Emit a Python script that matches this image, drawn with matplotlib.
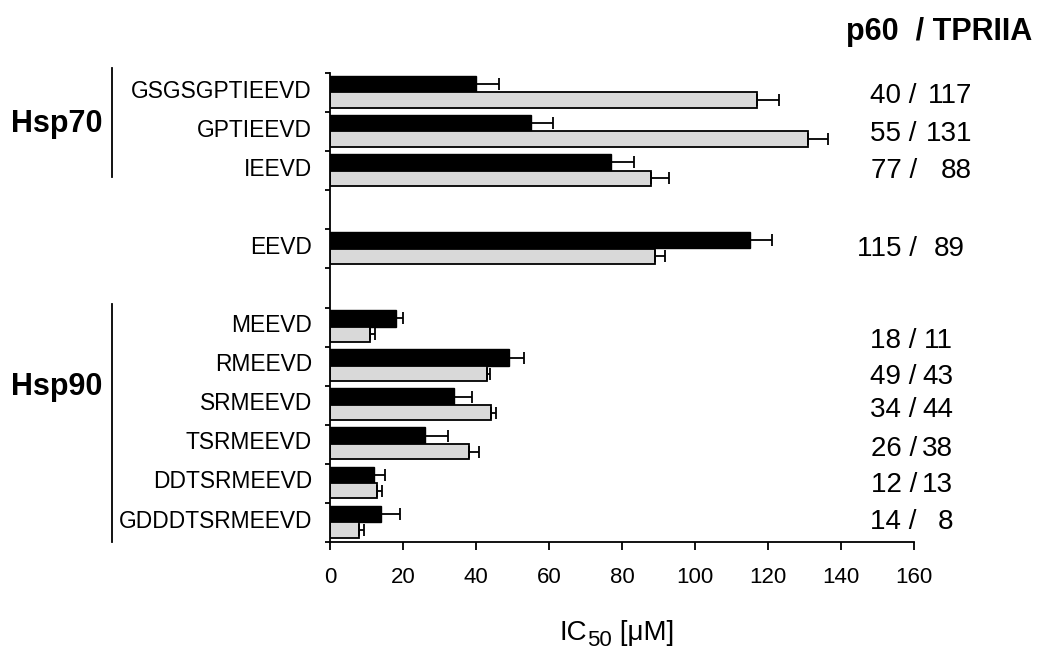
import numpy as np
import matplotlib.pyplot as plt
from matplotlib.transforms import blended_transform_factory

plt.rcParams['font.family'] = ['Liberation Sans', 'DejaVu Sans']

# peptide rows, top to bottom (empty string = spacer row)
peptides = ['GSGSGPTIEEVD', 'GPTIEEVD', 'IEEVD', '', 'EEVD', '',
            'MEEVD', 'RMEEVD', 'SRMEEVD', 'TSRMEEVD', 'DDTSRMEEVD', 'GDDDTSRMEEVD']

# IC50 values (uM), None for spacer rows
p60 = [40, 55, 77, None, 115, None, 18, 49, 34, 26, 12, 14]
p60_err = [6.3, 6, 6.3, None, 6.2, None, 2, 4.2, 5, 6.4, 3.2, 5.2]
tpr = [117, 131, 88, None, 89, None, 11, 43, 44, 38, 13, 8]
tpr_err = [6, 5.4, 5, None, 2.7, None, 1.3, 0.8, 1.4, 2.9, 1.3, 1.3]

# small vertical nudges for the value annotations on the right (row units)
note_shift = [0.1, 0.05, 0, 0, 0, 0, 0.35, 0.27, 0.12, 0.13, 0.03, 0]
note_end = [972, 972, 972, 0, 965, 0, 953, 953, 953, 953, 953, 953]

W, H = 1038, 652
fig = plt.figure(figsize=(W / 100, H / 100), dpi=100)
ax = fig.add_axes([330 / W, 1 - 542 / H, 584 / W, (542 - 73) / H])

n = len(peptides)
rows = [i for i in range(n) if peptides[i]]
y = np.array(rows, dtype=float)
a = np.array([p60[i] for i in rows])
ae = np.array([p60_err[i] for i in rows])
b = np.array([tpr[i] for i in rows])
be = np.array([tpr_err[i] for i in rows])

ax.barh(y + 0.28, a, height=0.42, color='black', edgecolor='black', linewidth=1.0)
ax.barh(y + 0.69, b, height=0.39, color='#d9d9d9', edgecolor='black', linewidth=1.3)
ekw = dict(fmt='none', ecolor='black', elinewidth=1.3, capsize=4, capthick=1.3)
ax.errorbar(a, y + 0.28, xerr=[np.zeros_like(ae), ae], **ekw)
ax.errorbar(b, y + 0.69, xerr=[np.zeros_like(be), be], **ekw)

ax.set_xlim(0, 160)
ax.set_ylim(n, 0)
ax.set_xticks(np.arange(0, 161, 20))
ax.set_yticks(np.arange(0, n + 1))
ax.set_yticklabels([])
ax.set_yticks(np.array(rows) + 0.4, minor=True)
ax.set_yticklabels([peptides[i] for i in rows], minor=True)

ax.tick_params(axis='x', length=6, width=1.3, pad=12, labelsize=16)
ax.tick_params(axis='y', which='major', length=3.5, width=1.3)
ax.tick_params(axis='y', which='minor', length=0, pad=13, labelsize=16.4)
for s in ['top', 'right']:
    ax.spines[s].set_visible(False)
for s in ['left', 'bottom']:
    ax.spines[s].set_linewidth(1.3)

# x label: IC50 [uM] with a large, lowered subscript
fig.text(560 / W, 1 - 640 / H, 'IC', ha='left', va='baseline', fontsize=20)
fig.text(587 / W, 1 - 646 / H, '50', ha='left', va='baseline', fontsize=16)
fig.text(612 / W, 1 - 640 / H, ' [μM]', ha='left', va='baseline', fontsize=20)

# value annotations on the right
tr = blended_transform_factory(fig.transFigure, ax.transData)
for i in rows:
    yy = i + 0.5 + note_shift[i]
    ax.text(917 / W, yy, f'{p60[i]} /', transform=tr, ha='right', va='center',
            fontsize=20, clip_on=False)
    ax.text(note_end[i] / W, yy, f'{tpr[i]}', transform=tr, ha='right', va='center',
            fontsize=20, clip_on=False)

fig.text(1032 / W, 1 - 32 / H, 'p60  / TPRIIA', ha='right', va='center',
         fontsize=22, fontweight='bold')

# group brackets
ax.plot([112 / W, 112 / W], [-0.13, 2.66], transform=tr, color='black', lw=1.3, clip_on=False)
ax.plot([112 / W, 112 / W], [5.9, 12.0], transform=tr, color='black', lw=1.3, clip_on=False)
fig.text(57 / W, 1 - 124 / H, 'Hsp70', ha='center', va='center', fontsize=22, fontweight='bold')
fig.text(57 / W, 1 - 387 / H, 'Hsp90', ha='center', va='center', fontsize=22, fontweight='bold')

fig.savefig('out.png', dpi=100)
